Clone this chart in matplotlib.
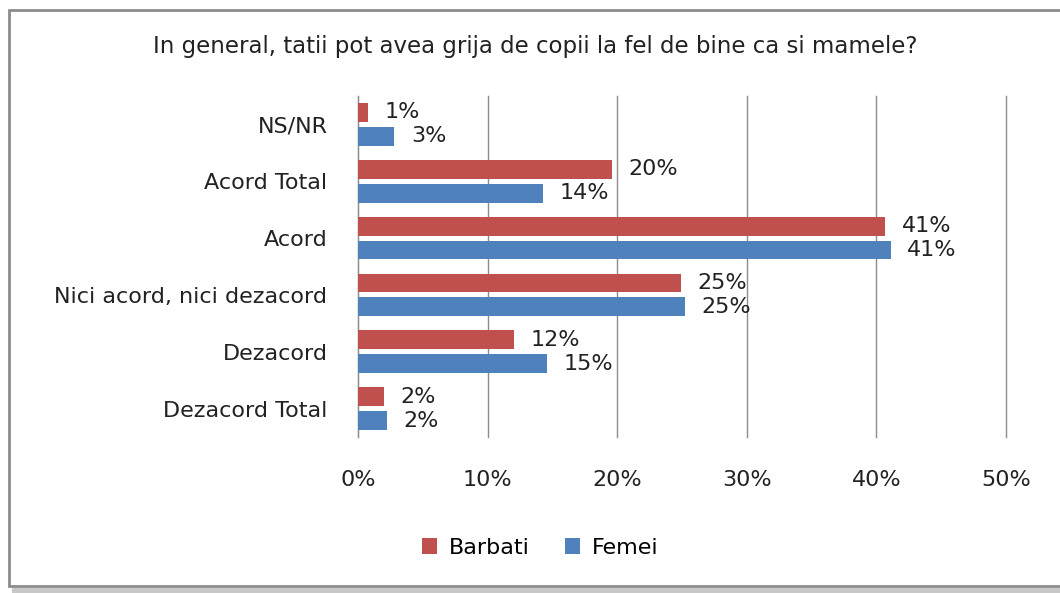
import numpy as np
import matplotlib.pyplot as plt
from matplotlib.patches import Rectangle
from matplotlib.ticker import PercentFormatter

plt.rcParams['font.family'] = ['DejaVu Sans']

# Date
categorii = ['NS/NR', 'Acord Total', 'Acord', 'Nici acord, nici dezacord',
             'Dezacord', 'Dezacord Total']
barbati = [0.8, 19.6, 40.7, 24.9, 12.0, 2.0]
femei = [2.8, 14.3, 41.1, 25.2, 14.6, 2.2]
titlu = 'In general, tatii pot avea grija de copii la fel de bine ca si mamele?'

rosu = '#c0504d'
albastru = '#4f81bd'
text_col = '#222222'
fs = 16

fig = plt.figure(figsize=(10.6, 5.93), dpi=100)
ax = fig.add_axes([358 / 1060, 1 - 437 / 593, 648 / 1060, 341 / 593])

# chenarul graficului + umbra
fig.patches.append(Rectangle((12 / 1060, 0), 1.0, 1 - 588 / 593, transform=fig.transFigure,
                             facecolor='#c8c8c8', edgecolor='none', zorder=-2))
fig.patches.append(Rectangle((9 / 1060, 1 - 586 / 593), 1.0, (586 - 10) / 593,
                             transform=fig.transFigure, facecolor='white',
                             edgecolor='#8c8c8c', linewidth=2, zorder=-1))

y = np.arange(len(categorii))
h = 0.33
b1 = ax.barh(y - 0.21, barbati, height=h, color=rosu, label='Barbati', zorder=3)
b2 = ax.barh(y + 0.21, femei, height=h, color=albastru, label='Femei', zorder=3)

for bars, vals in ((b1, barbati), (b2, femei)):
    for bar, v in zip(bars, vals):
        ax.annotate(f'{v:.0f}%', (v, bar.get_y() + bar.get_height() / 2),
                    xytext=(12, 0), textcoords='offset points', va='center',
                    ha='left', fontsize=fs, color=text_col)

ax.set_xlim(0, 50)
ax.set_ylim(len(categorii) - 0.5, -0.5)
ax.set_xticks(np.arange(0, 51, 10))
ax.xaxis.set_major_formatter(PercentFormatter(decimals=0))
ax.set_yticks(y)
ax.set_yticklabels(categorii)
ax.tick_params(axis='x', length=0, pad=24, labelsize=fs, labelcolor=text_col)
ax.tick_params(axis='y', length=0, pad=22, labelsize=fs, labelcolor=text_col)
ax.grid(axis='x', color='#8c8c8c', linewidth=1, zorder=0)
for gl in ax.get_xgridlines():
    gl.set_clip_on(False)
for s in ['top', 'right', 'bottom']:
    ax.spines[s].set_visible(False)
ax.spines['left'].set_color('#8c8c8c')
ax.set_facecolor('none')

fig.text(535 / 1060, 1 - 47 / 593, titlu, ha='center', va='center', fontsize=16.5,
         color=text_col)

fig.legend(handles=[b1, b2], loc='center', bbox_to_anchor=(540 / 1060, 1 - 548 / 593),
           ncol=2, frameon=False, fontsize=fs, handlelength=0.7, handleheight=0.7,
           columnspacing=1.6, handletextpad=0.5)

fig.savefig('out.png', dpi=100)
